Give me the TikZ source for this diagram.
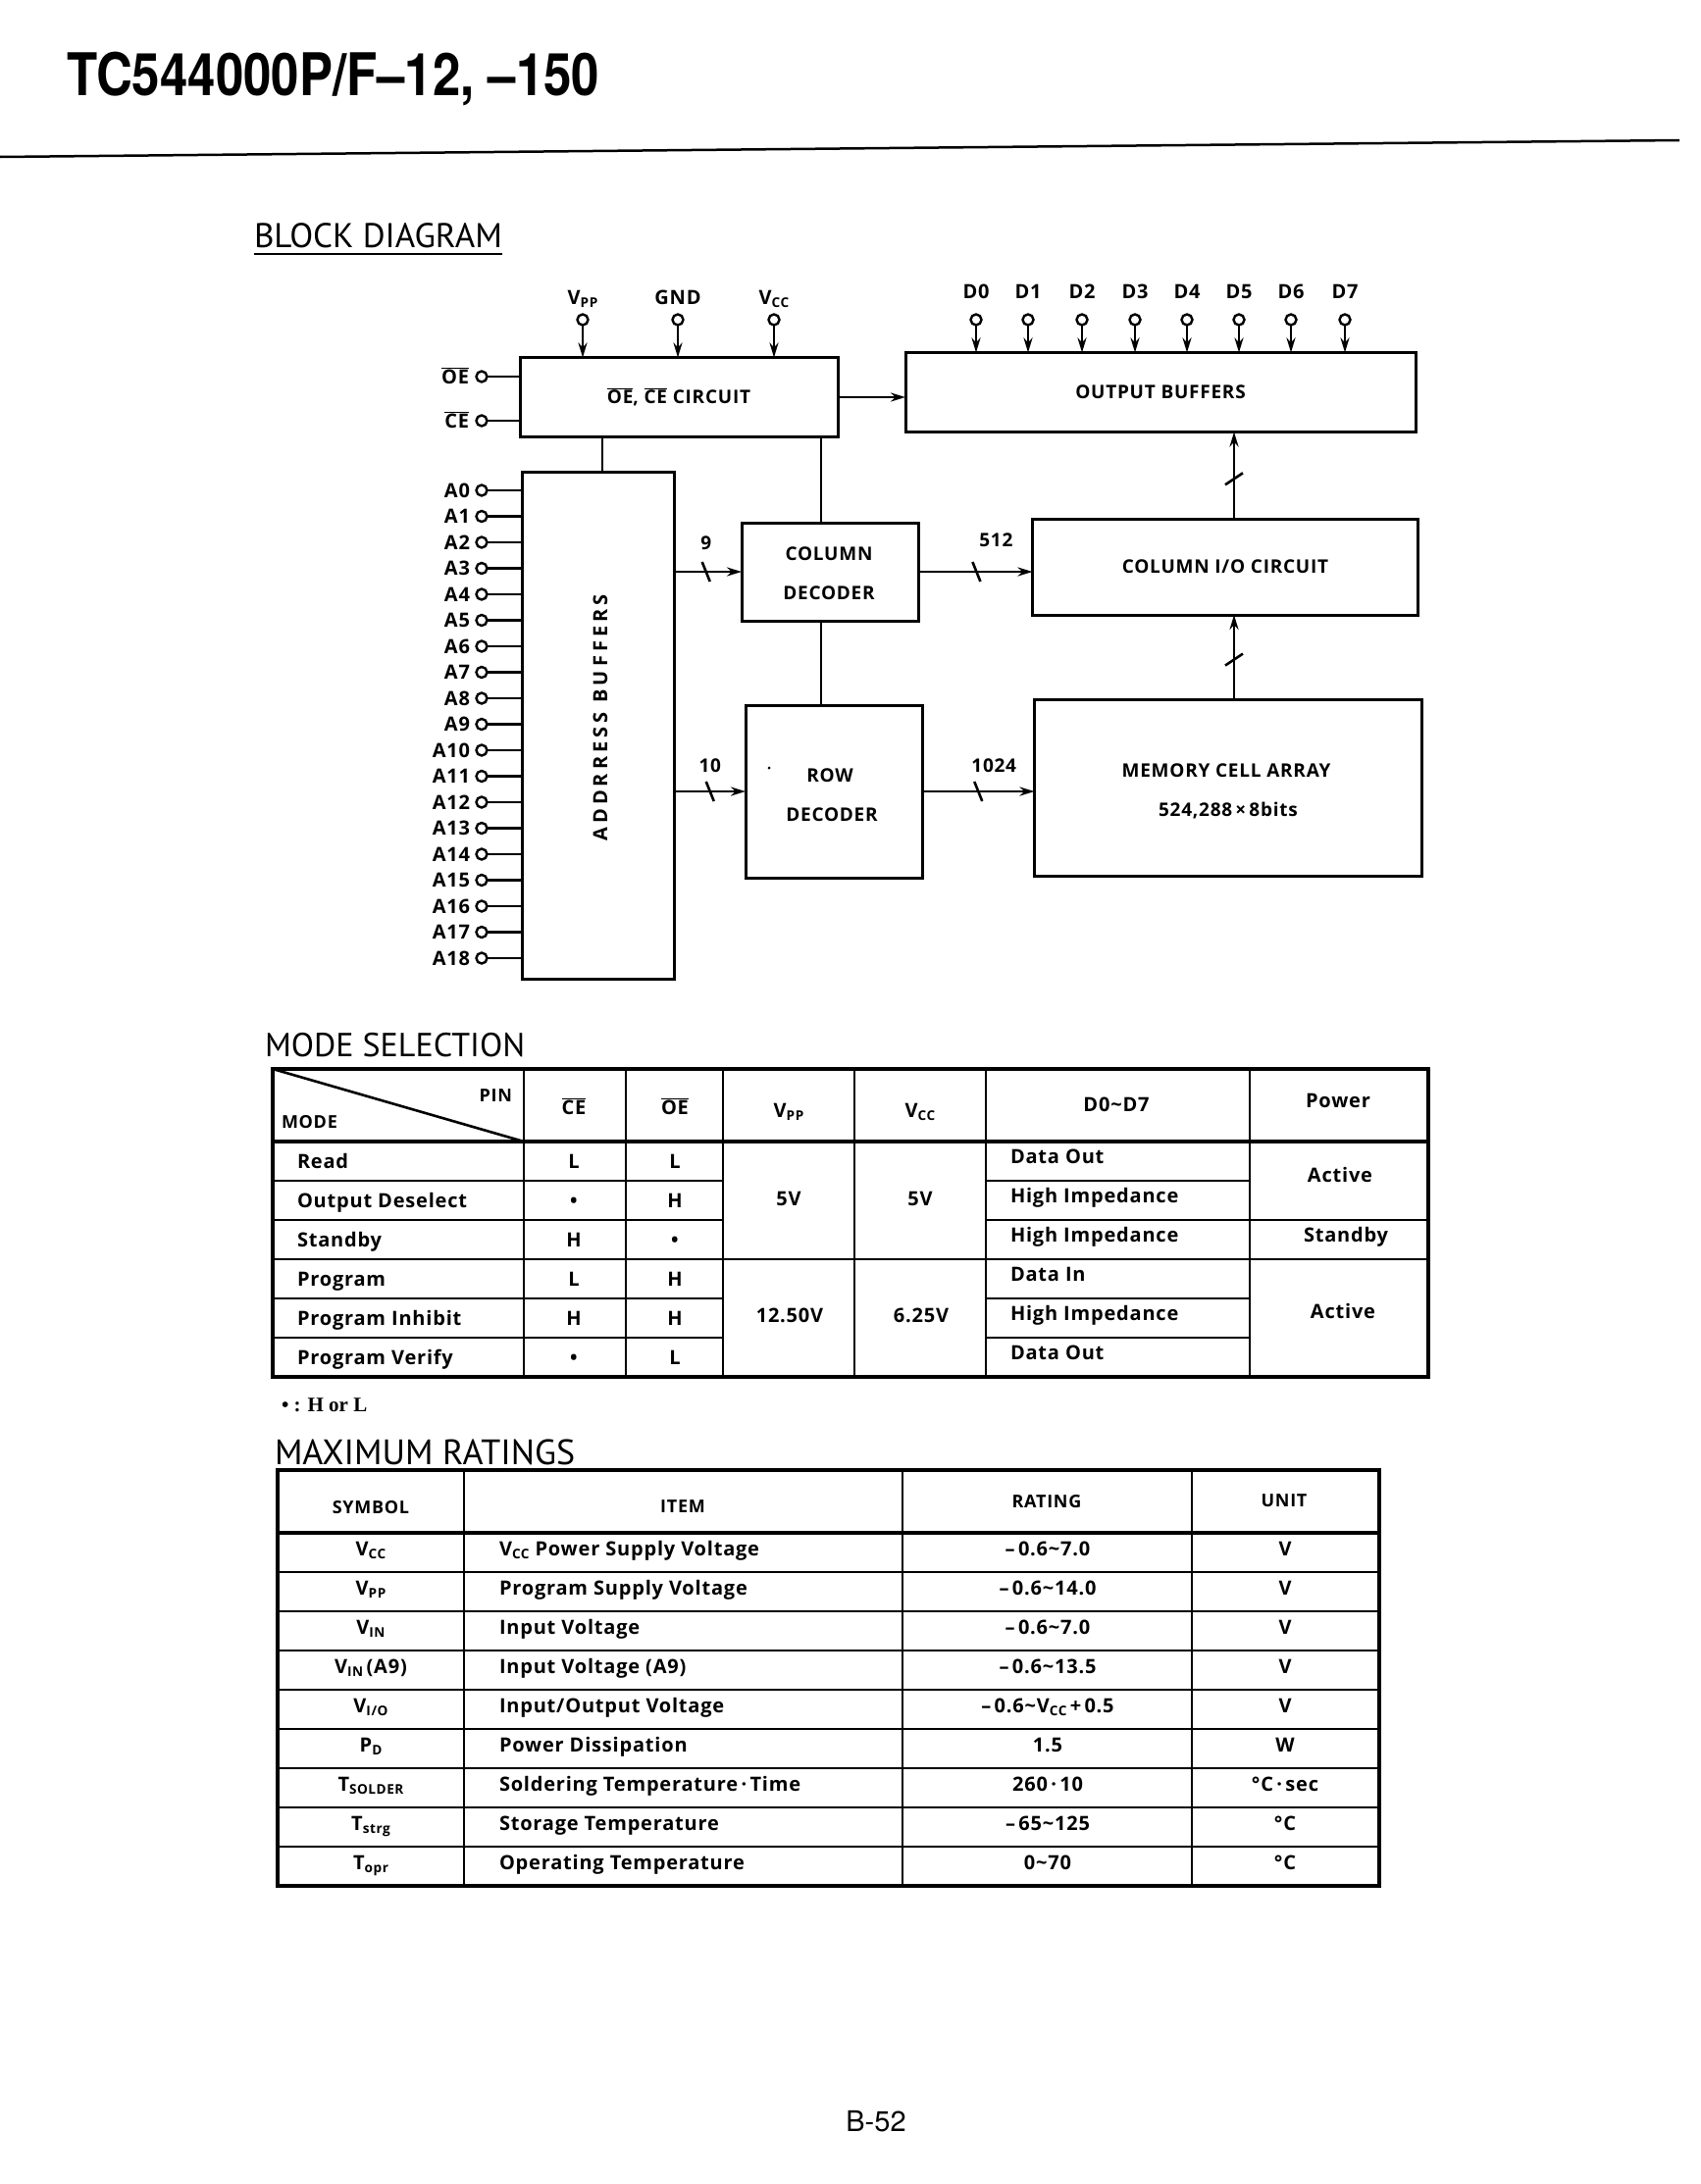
\documentclass[tikz,border=0pt]{standalone}
\usepackage{fontspec}
\usepackage{graphicx}
\setmainfont{Open Sans}[LetterSpace=4]
\newfontfamily\ttlfont{PT Sans}
\newfontfamily\headfont{TeX Gyre Heros}[FakeStretch=0.85]
\newfontfamily\pagefont{TeX Gyre Heros}
\newfontfamily\notefont{Liberation Serif}
\usetikzlibrary{arrows.meta}
\newcommand\fsz[1]{\fontsize{#1}{#1}\selectfont}
\newcommand\lsub[1]{\raisebox{-0.35ex}{\scalebox{0.68}{#1}}}
\newcommand\obar[1]{$\overline{\mbox{#1}}$}
\tikzset{
  every node/.style={inner sep=0pt, outer sep=0pt, font=\fsz{19}\bfseries},
  blk/.style={draw, line width=3pt, inner sep=0pt},
  wire/.style={line width=2.6pt},
  arr/.style={line width=2.6pt, -{Stealth[length=15pt,width=9pt]}},
  pinc/.style={circle, draw, line width=2.4pt, fill=white, minimum size=11pt},
  tab/.style={line width=2.6pt},
  tabo/.style={line width=4pt},
  ttl/.style={font=\ttlfont\fsz{34}, anchor=base west},
  tx/.style={anchor=base, font=\fsz{20}\bfseries},
  txl/.style={anchor=base west, font=\fsz{20}\bfseries},
  hd/.style={anchor=base, font=\fsz{18}\bfseries},
}
\begin{document}
\begin{tikzpicture}[x=1pt,y=-1pt]
\useasboundingbox (0,0) rectangle (1733,2227);
\fill[white] (0,0) rectangle (1733,2227);
% ---------- page header
\node[anchor=base west, font=\headfont\bfseries\fsz{60}] (title) at (68,97) {TC544000P/F–12, –150};
\draw[line width=2.5pt] (0,160) -- (1712,143);
\node[ttl, font=\ttlfont\fsz{35}] (bdt) at (259,252) {BLOCK DIAGRAM};
\draw[line width=2.2pt] ([yshift=-7pt]bdt.base west) -- ([yshift=-7pt]bdt.base east);
% ---------- block diagram boxes
\node[blk, minimum width=324pt, minimum height=81pt] (oc) at (692,405) {\obar{OE}, \obar{CE} CIRCUIT};
\node[blk, minimum width=520pt, minimum height=81pt] (ob) at (1183,400) {OUTPUT BUFFERS};
\node[blk, minimum width=155pt, minimum height=517pt] (ab) at (610,740) {};
\node[rotate=90, font=\fsz{20}\bfseries\addfontfeature{LetterSpace=20}] (abt) at (612,732) {ADDRRESS\hspace{10pt}BUFFERS};
\node[blk, minimum width=180pt, minimum height=100pt] (cd) at (846,583) {};
\node[anchor=base] (cdt1) at (845,571) {COLUMN};
\node[anchor=base] (cdt2) at (845,611) {DECODER};
\node[blk, minimum width=180pt, minimum height=176pt] (rd) at (850,807) {};
\node[anchor=base] (rdt1) at (846,797) {ROW};
\node[anchor=base] (rdt2) at (848,837) {DECODER};
\node[circle, fill=black, minimum size=3pt] (speck) at (784,783) {};
\node[blk, minimum width=393pt, minimum height=98pt] (cio) at (1249,578) {COLUMN I/O CIRCUIT};
\node[blk, minimum width=395pt, minimum height=180pt] (mca) at (1252,803) {};
\node[anchor=base] (mcat1) at (1250,792) {MEMORY CELL ARRAY};
\node[anchor=base] (mcat2) at (1252,832) {524,288\,×\,8bits};
% ---------- power pins
\foreach \n/\x/\t in {vpp/594/{V\lsub{PP}}, gnd/691/GND, vcc/789/{V\lsub{CC}}} {
  \node[pinc] (p\n) at (\x,326) {};
  \draw[arr] (p\n) -- (p\n |- oc.north);
  \node[anchor=base, font=\fsz{20}\bfseries] (l\n) at (\x,310) {\t};
}
% ---------- data pins
\foreach \i/\x in {0/995,1/1048,2/1103,3/1157,4/1210,5/1263,6/1316,7/1371} {
  \node[pinc] (d\i) at (\x,326) {};
  \draw[arr] (d\i) -- (d\i |- ob.north);
  \node[anchor=base, font=\fsz{20}\bfseries] (ld\i) at (\x,304) {D\i};
}
% ---------- OE / CE pins
\node[pinc] (poe) at (491,384) {};
\draw[wire] (poe) -- (poe -| oc.west);
\node[anchor=base east, font=\fsz{20}\bfseries] (loe) at (478,391) {\obar{OE}};
\node[pinc] (pce) at (491,429) {};
\draw[wire] (pce) -- (pce -| oc.west);
\node[anchor=base east, font=\fsz{20}\bfseries] (lce) at (478,436) {\obar{CE}};
% ---------- address pins
\foreach \i in {0,...,18} {
  \pgfmathsetmacro\yy{500+26.5*\i}
  \node[pinc] (a\i) at (491,\yy) {};
  \draw[wire] (a\i) -- (a\i -| ab.west);
  \node[anchor=base east, font=\fsz{20}\bfseries] (la\i) at (479,\yy+7) {A\i};
}
% ---------- connectors
\coordinate (xa) at (614,0);
\draw[wire] (xa |- oc.south) -- (xa |- ab.north);
\coordinate (xb) at (837,0);
\draw[wire] (xb |- oc.south) -- (xb |- cd.north);
\draw[wire] (xb |- cd.south) -- (xb |- rd.north);
\draw[arr] (oc.east) -- (oc.east -| ob.west);
\draw[arr] (cd.west -| ab.east) -- coordinate[pos=0.47] (s9) (cd.west);
\draw[wire] ([shift={(-4,-10)}]s9) -- ([shift={(4,10)}]s9);
\node[anchor=base] (n9) at ([shift={(0,-23)}]s9) {9};
\draw[arr] (rd.west -| ab.east) -- coordinate[pos=0.5] (s10) (rd.west);
\draw[wire] ([shift={(-4,-10)}]s10) -- ([shift={(4,10)}]s10);
\node[anchor=base] (n10) at ([shift={(0,-20)}]s10) {10};
\draw[arr] (cd.east) -- coordinate[pos=0.51] (s512) (cd.east -| cio.west);
\draw[wire] ([shift={(-4,-10)}]s512) -- ([shift={(4,10)}]s512);
\node[anchor=base] (n512) at ([shift={(20,-26)}]s512) {512};
\draw[arr] (rd.east) -- coordinate[pos=0.5] (s1024) (rd.east -| mca.west);
\draw[wire] ([shift={(-4,-10)}]s1024) -- ([shift={(4,10)}]s1024);
\node[anchor=base] (n1024) at ([shift={(16,-20)}]s1024) {1024};
\coordinate (xc) at (1258,0);
\draw[arr] (xc |- mca.north) -- coordinate[pos=0.47] (sm) (xc |- cio.south);
\draw[wire] ([shift={(-9,6)}]sm) -- ([shift={(9,-6)}]sm);
\draw[arr] (xc |- cio.north) -- coordinate[pos=0.46] (sc) (xc |- ob.south);
\draw[wire] ([shift={(-9,6)}]sc) -- ([shift={(9,-6)}]sc);
% ---------- MODE SELECTION
\node[ttl] (mst) at (270,1077) {MODE SELECTION};
\draw[tabo] (278,1090) rectangle (1456,1404);
\foreach \x in {534,638,737,871,1005,1274} \draw[tab] (\x,1090) -- (\x,1404);
\draw[tabo] (278,1164) -- (1456,1164);
\foreach \y in {1204,1244,1324,1364} {
  \draw[tab] (278,\y) -- (737,\y);
  \draw[tab] (1005,\y) -- (1274,\y);
}
\draw[tab] (1274,1244) -- (1456,1244);
\draw[tab] (278,1284) -- (1456,1284);
\draw[tab] (278,1090) -- (534,1164);
\node[anchor=base east, font=\fsz{18}\bfseries] (mpin) at (522,1123) {PIN};
\node[anchor=base west, font=\fsz{18}\bfseries] (mmode) at (287,1150) {MODE};
\node[tx] (hce) at (585,1136) {\obar{CE}};
\node[tx] (hoe) at (688,1136) {\obar{OE}};
\node[tx] (hvpp) at (804,1139) {V\lsub{PP}};
\node[tx] (hvcc) at (938,1139) {V\lsub{CC}};
\node[tx] (hd07) at (1138,1133) {D0\textasciitilde D7};
\node[tx] (hpow) at (1364,1129) {Power};
\foreach \t/\c/\o [count=\i] in {Read/L/L, Output Deselect/•/H, Standby/H/•, Program/L/H, Program Inhibit/H/H, Program Verify/•/L} {
  \node[txl] (mode\i) at (303,1151+40*\i) {\t};
  \node[tx] (mce\i) at (585,1151+40*\i) {\c};
  \node[tx] (moe\i) at (688,1151+40*\i) {\o};
}
\foreach \t [count=\i] in {Data Out, High Impedance, High Impedance, Data In, High Impedance, Data Out} {
  \node[txl] (md\i) at (1030,1146+40*\i) {\t};
}
\node[tx] (v5a) at (804,1229) {5V};
\node[tx] (v5b) at (938,1229) {5V};
\node[tx] (v12) at (805,1348) {12.50V};
\node[tx] (v625) at (939,1348) {6.25V};
\node[tx] (pw1) at (1366,1205) {Active};
\node[tx] (pw2) at (1372,1266) {Standby};
\node[tx] (pw3) at (1369,1344) {Active};
\node[anchor=base west, font=\notefont\bfseries\fsz{21}] (fn) at (287,1439) {• : H or L};
% ---------- MAXIMUM RATINGS
\node[ttl, font=\ttlfont\fsz{36}] (mrt) at (280,1493) {MAXIMUM RATINGS};
\draw[tabo] (283,1499) rectangle (1406,1923);
\foreach \x in {473,920,1215} \draw[tab] (\x,1499) -- (\x,1923);
\draw[tabo] (283,1563) -- (1406,1563);
\foreach \y in {1603,1643,...,1883} \draw[tab] (283,\y) -- (1406,\y);
\node[hd] (hsym) at (378,1543) {SYMBOL};
\node[hd] (hitem) at (696,1542) {ITEM};
\node[hd] (hrat) at (1067,1537) {RATING};
\node[hd] (hunit) at (1309,1536) {UNIT};
% row 1
\node[tx] (sy1) at (378,1586) {V\lsub{CC}};
\node[txl] (it1) at (509,1586) {V\lsub{CC} Power Supply Voltage};
\node[tx] (ra1) at (1068,1586) {–\,0.6\textasciitilde 7.0};
\node[tx] (un1) at (1310,1586) {V};
% row 2
\node[tx] (sy2) at (378,1626) {V\lsub{PP}};
\node[txl] (it2) at (509,1626) {Program Supply Voltage};
\node[tx] (ra2) at (1068,1626) {–\,0.6\textasciitilde 14.0};
\node[tx] (un2) at (1310,1626) {V};
% row 3
\node[tx] (sy3) at (378,1666) {V\lsub{IN}};
\node[txl] (it3) at (509,1666) {Input Voltage};
\node[tx] (ra3) at (1068,1666) {–\,0.6\textasciitilde 7.0};
\node[tx] (un3) at (1310,1666) {V};
% row 4
\node[tx] (sy4) at (378,1706) {V\lsub{IN}\,(A9)};
\node[txl] (it4) at (509,1706) {Input Voltage (A9)};
\node[tx] (ra4) at (1068,1706) {–\,0.6\textasciitilde 13.5};
\node[tx] (un4) at (1310,1706) {V};
% row 5
\node[tx] (sy5) at (378,1746) {V\lsub{I/O}};
\node[txl] (it5) at (509,1746) {Input/Output Voltage};
\node[tx] (ra5) at (1068,1746) {–\,0.6\textasciitilde V\lsub{CC}\,+\,0.5};
\node[tx] (un5) at (1310,1746) {V};
% row 6
\node[tx] (sy6) at (378,1786) {P\lsub{D}};
\node[txl] (it6) at (509,1786) {Power Dissipation};
\node[tx] (ra6) at (1068,1786) {1.5};
\node[tx] (un6) at (1310,1786) {W};
% row 7
\node[tx] (sy7) at (378,1826) {T\lsub{SOLDER}};
\node[txl] (it7) at (509,1826) {Soldering Temperature\,·\,Time};
\node[tx] (ra7) at (1068,1826) {260\,·\,10};
\node[tx] (un7) at (1310,1826) {°C\,·\,sec};
% row 8
\node[tx] (sy8) at (378,1866) {T\lsub{strg}};
\node[txl] (it8) at (509,1866) {Storage Temperature};
\node[tx] (ra8) at (1068,1866) {–\,65\textasciitilde 125};
\node[tx] (un8) at (1310,1866) {°C};
% row 9
\node[tx] (sy9) at (378,1906) {T\lsub{opr}};
\node[txl] (it9) at (509,1906) {Operating Temperature};
\node[tx] (ra9) at (1068,1906) {0\textasciitilde 70};
\node[tx] (un9) at (1310,1906) {°C};
% ---------- page number
\node[anchor=base, font=\pagefont\fsz{29}] (pg) at (893,2173) {B-52};
\end{tikzpicture}
\end{document}
